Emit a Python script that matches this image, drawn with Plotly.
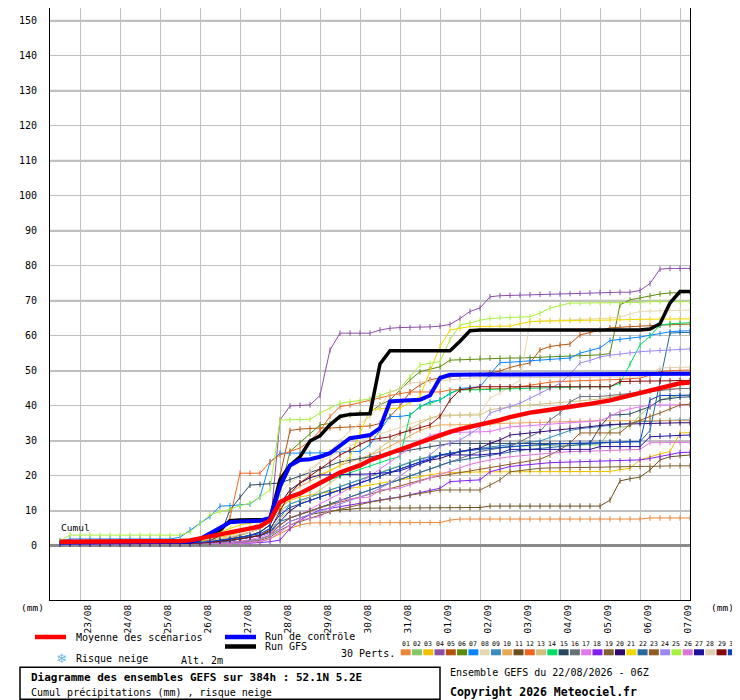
"""
GEFS ensemble plume: cumulative precipitation, 22/08/2026 06Z run, 52.1N 5.2E.
"""

import pandas as pd
import plotly.graph_objects as go

# 6-hourly steps of the run, first value at +6h, last at +384h
run_start = pd.Timestamp("2026-08-22 06:00")
steps = pd.date_range(run_start + pd.Timedelta(hours=6), periods=64, freq="6h")

day_labels = ["23/08", "24/08", "25/08", "26/08", "27/08", "28/08", "29/08", "30/08",
              "31/08", "01/09", "02/09", "03/09", "04/09", "05/09", "06/09", "07/09"]
y_ticks = list(range(0, 160, 10))

# ensemble mean, control run and deterministic GFS (mm, cumulated)
mean_run = [
    1.2, 1.2, 1.2, 1.2, 1.2, 1.2, 1.2, 1.2,
    1.2, 1.2, 1.2, 1.3, 1.4, 1.6, 2.2, 2.8,
    3.4, 4.0, 4.6, 5.1, 5.6, 7.4, 12.5, 14.0,
    15.0, 16.5, 18.0, 19.5, 21.0, 22.0, 23.0, 24.5,
    25.5, 26.5, 27.5, 28.7, 29.8, 30.8, 31.7, 32.6,
    33.4, 34.0, 34.6, 35.3, 36.0, 36.8, 37.6, 38.1,
    38.5, 39.0, 39.4, 39.8, 40.2, 40.6, 41.0, 41.6,
    42.3, 43.0, 43.8, 44.6, 45.4, 46.0, 46.5, 46.7]
control_run = [
    1.0, 1.0, 1.0, 1.0, 1.0, 1.0, 1.0, 1.0,
    1.0, 1.0, 1.0, 1.0, 1.0, 1.2, 2.0, 3.5,
    5.0, 6.8, 7.0, 7.0, 7.2, 8.0, 17.0, 23.0,
    24.6, 24.8, 25.5, 26.5, 28.8, 30.8, 31.2, 31.7,
    33.7, 41.3, 41.5, 41.6, 41.8, 43.0, 48.0, 48.9,
    49.0, 49.0, 49.0, 49.0, 49.0, 49.0, 49.0, 49.0,
    49.0, 49.0, 49.0, 49.0, 49.0, 49.0, 49.0, 49.0,
    49.0, 49.0, 49.0, 49.0, 49.1, 49.1, 49.2, 49.2]
gfs_run = [
    1.0, 1.0, 1.0, 1.0, 1.0, 1.0, 1.0, 1.0,
    1.0, 1.0, 1.0, 1.0, 1.0, 1.2, 2.0, 3.5,
    4.6, 7.2, 7.4, 7.4, 7.4, 7.6, 19.0, 23.0,
    25.5, 30.0, 31.5, 34.6, 37.0, 37.6, 37.7, 37.8,
    52.0, 55.8, 55.8, 55.8, 55.8, 55.8, 55.8, 55.8,
    58.5, 61.5, 61.7, 61.7, 61.7, 61.7, 61.7, 61.7,
    61.7, 61.7, 61.7, 61.7, 61.7, 61.7, 61.7, 61.7,
    61.7, 61.7, 61.7, 62.0, 63.5, 69.4, 72.7, 72.7]

# the 30 perturbed members
m01 = [
    0.8, 0.8, 0.8, 0.8, 0.8, 0.8, 0.8, 0.8,
    0.8, 0.8, 0.8, 0.8, 0.8, 0.8, 0.8, 0.8,
    0.8, 0.9, 1.0, 1.0, 1.2, 2.0, 3.5, 5.0,
    6.0, 6.6, 6.6, 6.6, 6.7, 6.7, 6.7, 6.7,
    6.7, 6.7, 6.7, 6.7, 6.7, 6.7, 6.7, 7.4,
    7.7, 7.7, 7.7, 7.7, 7.7, 7.7, 7.7, 7.7,
    7.7, 7.7, 7.7, 7.7, 7.7, 7.7, 7.7, 7.7,
    7.7, 7.7, 7.7, 8.0, 8.0, 8.0, 8.0, 8.0]
m02 = [
    0.8, 0.8, 0.8, 0.8, 0.8, 0.8, 0.8, 0.8,
    0.8, 0.8, 0.8, 0.8, 0.9, 1.0, 1.2, 1.5,
    2.0, 2.5, 3.0, 4.0, 5.0, 7.0, 10.0, 12.0,
    13.0, 14.0, 15.0, 16.0, 17.0, 18.0, 19.0, 20.0,
    21.0, 22.0, 23.0, 24.0, 25.0, 25.5, 26.0, 26.5,
    27.0, 27.5, 27.8, 28.0, 28.2, 28.4, 28.5, 28.6,
    28.7, 28.8, 28.8, 28.9, 28.9, 28.9, 28.9, 33.1,
    34.0, 34.1, 37.4, 39.8, 41.7, 42.5, 43.0, 43.1]
m03 = [
    0.7, 0.7, 0.7, 0.7, 0.7, 0.7, 0.7, 0.7,
    0.7, 0.7, 0.7, 0.7, 0.8, 1.0, 1.3, 1.8,
    2.5, 3.0, 4.0, 5.0, 6.0, 8.0, 11.0, 13.0,
    14.0, 14.5, 15.0, 15.5, 16.0, 16.5, 17.0, 17.5,
    18.0, 18.5, 19.0, 19.5, 20.0, 20.5, 20.8, 21.0,
    21.1, 21.2, 21.2, 21.2, 21.2, 21.2, 21.2, 21.2,
    21.2, 21.2, 21.2, 21.2, 21.2, 21.2, 21.2, 21.3,
    21.8, 22.2, 24.6, 25.5, 26.3, 27.0, 32.3, 32.4]
m04 = [
    1.0, 1.0, 1.0, 1.0, 1.0, 1.0, 1.0, 1.0,
    1.0, 1.0, 1.0, 1.0, 1.0, 1.0, 1.2, 1.5,
    1.8, 2.0, 2.2, 2.5, 3.0, 5.0, 36.0, 40.0,
    40.2, 40.3, 43.0, 56.0, 60.8, 60.8, 60.8, 60.8,
    61.7, 62.2, 62.4, 62.4, 62.5, 62.6, 62.8, 63.3,
    65.0, 67.0, 68.0, 71.2, 71.5, 71.6, 71.7, 71.8,
    71.9, 72.0, 72.0, 72.1, 72.2, 72.3, 72.4, 72.4,
    72.5, 72.5, 73.0, 75.0, 79.1, 79.3, 79.3, 79.3]
m05 = [
    0.9, 0.9, 0.9, 0.9, 0.9, 0.9, 0.9, 0.9,
    0.9, 0.9, 0.9, 0.9, 0.9, 0.9, 1.0, 1.2,
    1.5, 2.0, 2.5, 3.0, 4.0, 6.0, 20.0, 33.0,
    33.4, 33.6, 33.7, 33.7, 33.8, 34.0, 34.2, 34.3,
    35.0, 37.0, 40.0, 44.0, 46.0, 47.5, 48.0, 48.3,
    48.5, 48.8, 49.0, 49.5, 50.0, 51.0, 51.7, 52.3,
    56.0, 57.0, 57.4, 57.7, 60.3, 61.0, 61.7, 62.3,
    62.5, 62.7, 62.9, 63.0, 63.1, 63.2, 63.3, 63.4]
m06 = [
    1.0, 1.0, 1.0, 1.0, 1.0, 1.0, 1.0, 1.0,
    1.0, 1.0, 1.0, 1.0, 1.0, 1.0, 1.2, 1.5,
    2.0, 2.5, 3.0, 4.0, 5.0, 7.0, 15.0, 27.0,
    29.5, 32.0, 34.6, 35.0, 36.8, 37.5, 38.0, 38.2,
    40.3, 41.7, 44.5, 47.4, 49.8, 50.5, 51.2, 53.1,
    53.2, 53.4, 53.6, 53.7, 53.7, 53.7, 53.7, 53.8,
    53.9, 54.0, 54.1, 54.2, 54.3, 54.4, 54.6, 55.0,
    68.9, 70.3, 70.9, 71.5, 72.0, 72.3, 72.4, 72.4]
m07 = [
    1.5, 2.0, 2.0, 2.0, 2.0, 2.0, 2.0, 2.0,
    2.0, 2.0, 2.0, 2.0, 2.5, 4.6, 6.5, 8.4,
    11.4, 11.5, 11.7, 12.0, 14.0, 24.0, 26.5, 26.5,
    26.5, 26.5, 26.6, 26.8, 27.0, 27.0, 27.0, 28.9,
    33.1, 37.0, 37.0, 37.4, 39.8, 41.2, 41.7, 43.5,
    45.0, 45.3, 45.5, 49.0, 52.4, 52.5, 52.7, 53.0,
    53.2, 53.4, 53.6, 53.7, 55.1, 55.8, 56.6, 58.7,
    59.0, 59.4, 59.7, 60.2, 60.7, 61.2, 61.4, 61.5]
m08 = [
    0.8, 0.8, 0.8, 0.8, 0.8, 0.8, 0.8, 0.8,
    0.8, 0.8, 0.8, 0.8, 0.8, 0.8, 1.0, 1.3,
    1.8, 2.5, 3.5, 5.0, 7.0, 10.0, 15.0, 18.0,
    20.0, 22.0, 24.0, 25.5, 27.0, 28.5, 30.0, 31.0,
    32.0, 33.0, 34.0, 35.0, 35.8, 36.4, 37.0, 37.2,
    37.4, 37.6, 37.8, 42.3, 43.7, 45.5, 47.4, 64.1,
    64.3, 64.4, 64.5, 64.6, 64.7, 64.8, 64.9, 65.1,
    65.5, 66.2, 67.0, 67.1, 67.2, 67.3, 67.4, 67.4]
m09 = [
    0.7, 0.7, 0.7, 0.7, 0.7, 0.7, 0.7, 0.7,
    0.7, 0.7, 0.7, 0.7, 0.7, 0.7, 0.8, 1.0,
    1.3, 1.6, 2.0, 2.5, 3.0, 4.0, 8.0, 12.0,
    13.0, 14.0, 15.0, 16.0, 17.0, 18.0, 19.0, 20.0,
    21.0, 22.0, 23.0, 24.0, 24.8, 25.4, 26.0, 26.5,
    27.0, 27.5, 28.0, 28.3, 28.6, 28.9, 29.2, 29.5,
    30.0, 31.0, 32.0, 33.0, 33.5, 33.8, 34.0, 34.4,
    34.8, 35.1, 35.5, 35.7, 35.8, 35.9, 36.0, 36.0]
m10 = [
    0.8, 0.8, 0.8, 0.8, 0.8, 0.8, 0.8, 0.8,
    0.8, 0.8, 0.8, 0.8, 0.8, 0.8, 1.0, 1.5,
    2.0, 2.5, 3.0, 4.0, 5.0, 7.0, 12.0, 15.0,
    17.0, 18.5, 20.0, 21.5, 23.0, 24.0, 25.0, 26.0,
    27.0, 28.5, 30.0, 31.5, 33.0, 34.0, 34.6, 34.6,
    34.6, 34.6, 34.6, 34.8, 35.0, 35.1, 35.2, 35.3,
    35.4, 35.5, 35.6, 35.7, 35.7, 35.8, 35.8, 35.8,
    35.8, 35.8, 35.8, 35.8, 35.8, 35.8, 35.8, 35.8]
m11 = [
    0.7, 0.7, 0.7, 0.7, 0.7, 0.7, 0.7, 0.7,
    0.7, 0.7, 0.7, 0.7, 0.7, 0.7, 0.7, 0.7,
    0.8, 1.0, 1.2, 1.5, 2.0, 3.0, 5.0, 7.0,
    8.0, 9.0, 9.5, 10.0, 10.3, 10.5, 10.8, 10.8,
    10.8, 10.8, 10.8, 11.0, 11.0, 11.0, 11.0, 11.0,
    11.0, 11.0, 11.0, 11.4, 11.4, 11.4, 11.4, 11.4,
    11.4, 11.4, 11.4, 11.4, 11.4, 11.4, 11.4, 13.1,
    18.6, 19.2, 19.7, 21.7, 24.6, 25.5, 25.8, 26.0]
m12 = [
    0.8, 0.8, 0.8, 0.8, 0.8, 0.8, 0.8, 0.8,
    0.8, 0.8, 0.8, 0.8, 0.8, 0.8, 1.0, 1.5,
    3.0, 8.0, 20.8, 20.8, 20.8, 24.0, 26.0, 27.0,
    28.0, 30.0, 33.0, 37.0, 39.8, 40.3, 41.0, 41.7,
    42.5, 43.0, 43.5, 44.0, 44.0, 44.0, 44.0, 44.6,
    44.6, 44.7, 44.8, 44.9, 45.0, 45.0, 45.5, 46.0,
    46.5, 46.8, 47.0, 47.1, 47.1, 47.2, 47.2, 47.4,
    47.6, 47.8, 48.0, 48.8, 49.8, 50.1, 50.3, 50.3]
m13 = [
    0.8, 0.8, 0.8, 0.8, 0.8, 0.8, 0.8, 0.8,
    0.8, 0.8, 0.8, 0.8, 0.8, 0.8, 0.9, 1.0,
    1.3, 1.6, 2.0, 2.6, 3.2, 4.5, 8.0, 10.0,
    12.0, 14.0, 16.0, 18.0, 20.0, 22.0, 24.0, 26.0,
    28.0, 30.0, 32.0, 33.5, 35.0, 36.5, 37.4, 37.4,
    37.4, 37.4, 37.4, 38.9, 39.4, 39.8, 40.0, 40.3,
    40.6, 40.8, 41.0, 41.2, 41.4, 41.6, 42.0, 42.5,
    43.0, 43.5, 44.0, 44.4, 44.7, 44.9, 45.0, 45.0]
m14 = [
    0.8, 0.8, 0.8, 0.8, 0.8, 0.8, 0.8, 0.8,
    0.8, 0.8, 0.8, 0.8, 0.8, 0.8, 1.0, 1.2,
    1.5, 2.0, 2.5, 3.0, 4.0, 6.0, 12.0, 14.0,
    15.0, 16.0, 18.0, 19.0, 20.0, 21.0, 22.0, 23.0,
    24.0, 24.8, 25.5, 37.4, 39.8, 40.8, 41.7, 43.7,
    44.6, 44.6, 44.6, 44.7, 44.8, 44.9, 45.0, 45.1,
    45.2, 45.3, 45.4, 45.4, 45.5, 45.5, 45.5, 45.5,
    46.5, 52.0, 57.4, 60.0, 63.1, 63.5, 63.7, 63.8]
m15 = [
    0.8, 0.8, 0.8, 0.8, 0.8, 0.8, 0.8, 0.8,
    0.8, 0.8, 0.8, 0.8, 0.8, 0.8, 1.0, 1.5,
    3.0, 10.3, 14.0, 17.4, 17.6, 17.8, 18.0, 19.0,
    20.0, 21.0, 22.0, 23.0, 24.0, 24.5, 25.0, 25.5,
    26.0, 26.5, 27.0, 27.5, 28.0, 28.5, 29.0, 29.3,
    29.3, 29.3, 29.3, 29.3, 29.3, 29.3, 29.3, 29.3,
    29.3, 29.3, 29.3, 29.3, 29.3, 29.3, 34.0, 37.4,
    37.5, 37.7, 38.8, 39.8, 41.7, 42.2, 42.5, 42.6]
m16 = [
    0.7, 0.7, 0.7, 0.7, 0.7, 0.7, 0.7, 0.7,
    0.7, 0.7, 0.7, 0.7, 0.7, 0.7, 0.8, 1.0,
    1.2, 1.5, 2.0, 2.5, 3.0, 4.0, 6.0, 8.0,
    9.0, 10.0, 11.0, 12.0, 13.0, 14.0, 15.0, 16.0,
    17.0, 18.0, 19.0, 20.0, 21.0, 22.0, 23.0, 24.0,
    25.0, 26.0, 27.0, 27.5, 28.0, 28.4, 29.8, 31.2,
    32.7, 36.0, 38.0, 41.2, 42.7, 42.7, 42.7, 43.0,
    43.3, 43.6, 44.0, 44.3, 44.6, 44.8, 45.0, 45.0]
m17 = [
    0.7, 0.7, 0.7, 0.7, 0.7, 0.7, 0.7, 0.7,
    0.7, 0.7, 0.7, 0.7, 0.7, 0.7, 0.7, 0.7,
    0.8, 1.0, 1.3, 1.8, 2.5, 3.5, 6.0, 8.0,
    9.0, 10.5, 12.0, 13.5, 15.0, 16.5, 18.0, 20.0,
    22.0, 24.0, 26.0, 28.0, 30.0, 31.5, 32.3, 32.4,
    32.5, 32.6, 32.6, 32.7, 33.4, 34.0, 34.2, 34.4,
    34.6, 34.8, 35.0, 35.2, 35.4, 35.6, 35.8, 37.0,
    38.5, 39.2, 39.8, 40.3, 40.3, 40.3, 40.3, 40.3]
m18 = [
    0.6, 0.6, 0.6, 0.6, 0.6, 0.6, 0.6, 0.6,
    0.6, 0.6, 0.6, 0.6, 0.6, 0.6, 0.6, 0.6,
    0.6, 0.6, 0.7, 0.8, 1.0, 1.2, 1.7, 5.0,
    7.4, 9.0, 10.3, 10.8, 11.3, 11.8, 12.3, 12.8,
    13.2, 13.6, 14.0, 14.6, 15.2, 15.8, 16.5, 18.4,
    18.6, 18.8, 18.9, 21.2, 22.0, 22.7, 23.0, 23.3,
    23.7, 23.8, 23.9, 24.0, 24.0, 24.1, 24.1, 24.2,
    24.3, 24.5, 24.6, 25.0, 25.5, 26.0, 26.7, 26.8]
m19 = [
    0.7, 0.7, 0.7, 0.7, 0.7, 0.7, 0.7, 0.7,
    0.7, 0.7, 0.7, 0.7, 0.7, 0.7, 0.7, 0.7,
    0.8, 0.9, 1.0, 1.2, 1.6, 2.5, 4.5, 6.0,
    7.0, 8.0, 9.0, 9.8, 10.5, 11.2, 12.0, 12.5,
    13.0, 13.5, 14.0, 14.5, 15.0, 15.5, 16.0, 16.0,
    16.0, 16.0, 16.0, 17.4, 18.9, 21.2, 21.6, 21.9,
    22.2, 22.3, 22.3, 22.4, 22.4, 22.5, 22.5, 22.6,
    22.6, 22.7, 22.7, 22.8, 22.8, 22.9, 22.9, 22.9]
m20 = [
    0.7, 0.7, 0.7, 0.7, 0.7, 0.7, 0.7, 0.7,
    0.7, 0.7, 0.7, 0.7, 0.7, 0.7, 0.8, 1.0,
    1.2, 1.5, 2.0, 2.5, 3.0, 4.0, 7.0, 10.0,
    12.0, 13.0, 14.0, 15.0, 16.0, 17.0, 18.0, 19.0,
    20.0, 21.0, 22.0, 23.0, 24.0, 24.5, 25.0, 26.0,
    27.0, 27.5, 28.0, 29.3, 30.3, 31.7, 32.0, 32.3,
    32.7, 33.1, 33.4, 33.7, 34.0, 34.3, 34.6, 34.7,
    34.8, 34.9, 35.0, 35.0, 35.1, 35.1, 35.2, 35.2]
m21 = [
    0.8, 0.8, 0.8, 0.8, 0.8, 0.8, 0.8, 0.8,
    0.8, 0.8, 0.8, 0.8, 0.8, 1.0, 2.0, 3.0,
    4.0, 5.0, 6.0, 6.5, 7.0, 8.0, 12.0, 16.0,
    18.0, 19.5, 20.5, 21.5, 23.0, 25.5, 32.3, 38.9,
    39.2, 39.3, 39.4, 41.0, 42.7, 50.0, 57.0, 61.7,
    62.2, 62.7, 62.7, 62.7, 62.7, 62.8, 63.5, 64.1,
    64.2, 64.3, 64.3, 64.4, 64.4, 64.5, 64.5, 64.6,
    64.7, 64.7, 64.8, 64.8, 64.8, 64.9, 64.9, 64.9]
m22 = [
    0.7, 0.7, 0.7, 0.7, 0.7, 0.7, 0.7, 0.7,
    0.7, 0.7, 0.7, 0.7, 0.7, 0.7, 0.8, 1.0,
    1.2, 1.5, 2.0, 2.5, 3.0, 4.0, 7.0, 8.0,
    9.0, 10.0, 11.0, 12.0, 13.0, 14.0, 15.0, 16.0,
    17.0, 18.0, 19.0, 20.0, 21.0, 22.0, 23.0, 24.0,
    24.5, 25.0, 25.5, 26.0, 26.5, 27.0, 27.3, 27.6,
    27.9, 28.2, 28.5, 28.8, 29.0, 29.2, 29.4, 29.6,
    29.7, 29.8, 29.8, 33.0, 47.0, 60.8, 61.0, 61.0]
m23 = [
    0.7, 0.7, 0.7, 0.7, 0.7, 0.7, 0.7, 0.7,
    0.7, 0.7, 0.7, 0.7, 0.7, 0.7, 0.7, 0.7,
    0.8, 1.0, 1.2, 1.5, 2.0, 3.0, 6.0, 8.0,
    9.0, 10.0, 11.0, 11.8, 12.5, 13.2, 14.0, 14.8,
    15.6, 16.4, 17.2, 18.0, 18.8, 19.5, 20.0, 20.5,
    21.0, 21.5, 22.0, 22.5, 23.0, 23.5, 24.0, 24.4,
    24.8, 26.0, 27.5, 29.4, 32.3, 32.3, 32.3, 32.3,
    32.3, 34.8, 36.0, 37.0, 38.0, 39.2, 40.3, 40.5]
m24 = [
    0.7, 0.7, 0.7, 0.7, 0.7, 0.7, 0.7, 0.7,
    0.7, 0.7, 0.7, 0.7, 0.7, 0.7, 0.7, 0.7,
    0.8, 1.0, 1.2, 1.5, 2.0, 3.0, 5.0, 7.0,
    8.0, 9.0, 10.0, 11.0, 12.0, 13.0, 14.0, 15.0,
    16.5, 18.0, 20.0, 22.0, 24.0, 26.0, 28.4, 29.3,
    30.3, 32.0, 34.0, 38.0, 39.0, 40.0, 40.8, 42.2,
    43.7, 45.0, 46.5, 49.0, 52.3, 53.0, 54.0, 54.5,
    54.9, 55.2, 55.5, 55.7, 55.9, 56.1, 56.2, 56.3]
m25 = [
    1.5, 3.1, 3.1, 3.1, 3.1, 3.1, 3.1, 3.1,
    3.1, 3.1, 3.1, 3.1, 3.1, 4.0, 6.5, 8.9,
    9.8, 10.5, 11.5, 12.2, 14.0, 16.0, 36.0, 36.0,
    36.1, 36.2, 38.0, 39.5, 40.8, 41.2, 41.6, 42.0,
    43.0, 44.0, 45.0, 48.4, 51.7, 52.2, 52.7, 58.9,
    63.1, 63.7, 64.5, 65.0, 65.2, 65.3, 65.4, 65.5,
    66.5, 68.0, 68.7, 69.4, 69.4, 69.4, 69.5, 69.5,
    69.5, 69.5, 69.6, 69.8, 69.8, 69.8, 69.8, 69.8]
m26 = [
    0.6, 0.6, 0.6, 0.6, 0.6, 0.6, 0.6, 0.6,
    0.6, 0.6, 0.6, 0.6, 0.6, 0.6, 0.6, 0.6,
    0.6, 0.7, 0.8, 1.0, 1.3, 2.0, 4.0, 6.0,
    7.4, 8.0, 8.4, 10.3, 13.1, 13.5, 13.8, 14.0,
    16.0, 16.3, 16.6, 17.5, 18.5, 19.5, 20.5, 21.5,
    22.5, 23.3, 24.0, 24.6, 25.1, 25.5, 25.8, 26.0,
    26.2, 26.5, 26.7, 27.0, 27.0, 27.0, 27.2, 27.3,
    27.4, 27.5, 27.6, 29.5, 29.5, 29.6, 29.6, 29.6]
m27 = [
    0.7, 0.7, 0.7, 0.7, 0.7, 0.7, 0.7, 0.7,
    0.7, 0.7, 0.7, 0.7, 0.7, 0.7, 0.9, 1.2,
    1.5, 2.0, 2.5, 3.0, 4.0, 6.0, 12.0, 16.0,
    18.0, 19.5, 20.3, 20.3, 20.3, 20.4, 20.5, 20.6,
    20.8, 21.0, 21.5, 22.5, 23.5, 24.5, 26.0, 26.0,
    26.0, 26.0, 26.0, 26.3, 26.5, 27.6, 27.6, 27.6,
    27.6, 27.6, 27.6, 27.6, 27.6, 27.6, 28.4, 28.4,
    28.4, 28.4, 28.4, 31.2, 31.4, 31.5, 31.6, 31.7]
m28 = [
    0.8, 0.8, 0.8, 0.8, 0.8, 0.8, 0.8, 0.8,
    0.8, 0.8, 0.8, 0.8, 0.8, 0.8, 1.0, 1.4,
    2.0, 2.6, 3.2, 4.0, 5.0, 7.0, 12.0, 15.0,
    18.0, 21.0, 24.0, 27.0, 30.0, 33.0, 35.0, 37.0,
    40.0, 43.8, 45.0, 46.5, 46.8, 47.0, 47.1, 47.4,
    47.7, 48.0, 48.0, 48.0, 48.0, 48.1, 48.1, 48.1,
    48.1, 48.2, 48.2, 48.2, 48.2, 48.2, 48.3, 48.3,
    48.3, 48.3, 48.3, 49.4, 50.8, 51.0, 51.1, 51.1]
m29 = [
    0.7, 0.7, 0.7, 0.7, 0.7, 0.7, 0.7, 0.7,
    0.7, 0.7, 0.7, 0.7, 0.7, 0.7, 0.8, 1.0,
    1.3, 1.6, 2.0, 2.5, 3.0, 4.5, 10.0, 15.0,
    18.0, 20.0, 22.0, 24.0, 26.0, 27.4, 29.0, 30.3,
    30.8, 31.2, 32.2, 33.1, 33.8, 34.6, 37.0, 41.7,
    44.6, 45.0, 45.5, 45.5, 45.5, 45.5, 45.5, 45.5,
    45.5, 45.5, 45.5, 45.5, 45.5, 45.5, 45.5, 45.5,
    47.0, 47.0, 47.1, 47.1, 47.2, 47.2, 47.3, 47.3]
m30 = [
    0.8, 0.8, 0.8, 0.8, 0.8, 0.8, 0.8, 0.8,
    0.8, 0.8, 0.8, 0.8, 0.8, 0.8, 1.0, 1.3,
    1.6, 2.0, 2.5, 3.0, 3.5, 5.0, 9.0, 11.0,
    12.0, 13.0, 14.0, 15.0, 16.0, 17.0, 18.0, 19.0,
    20.0, 21.0, 22.0, 23.0, 24.0, 25.0, 26.0, 26.5,
    27.0, 27.3, 27.6, 27.9, 28.2, 28.4, 28.6, 28.8,
    29.0, 29.1, 29.2, 29.3, 29.4, 29.5, 29.6, 29.7,
    29.8, 29.8, 29.8, 41.7, 43.0, 43.0, 43.0, 43.1]

members = [m01, m02, m03, m04, m05, m06, m07, m08, m09, m10,
           m11, m12, m13, m14, m15, m16, m17, m18, m19, m20,
           m21, m22, m23, m24, m25, m26, m27, m28, m29, m30]
member_names = [f"{k:02d}" for k in range(1, 31)]
member_colors = [
    "#e8873a", "#88c46a", "#f0c000", "#8b4fa8", "#b4540c", "#5a8a0a",
    "#0a84ff", "#e8d8b0", "#3c8cc0", "#e8a858", "#6a5020", "#f06420",
    "#d0c080", "#00dc64", "#284860", "#687078", "#e078f0", "#8020f0",
    "#806030", "#300870", "#f0d800", "#2868a0", "#905c24", "#9c88f0",
    "#a8f040", "#d878d8", "#2010a0", "#e0d0b0", "#880808", "#0a40c0",
]

for series in members + [mean_run, control_run, gfs_run]:
    assert len(series) == len(steps)

MONO = "DejaVu Sans Mono"
GRID = "#c0c0c0"

# the page body adds an 8px margin, so the figure is made 8px smaller and the
# plot area lands on x 50..690, y 8..600 of the window
PAGE = 8
fig_w, fig_h = 740 - PAGE, 700 - PAGE

fig = go.Figure()

for name, vals, col in zip(member_names, members, member_colors):
    fig.add_trace(go.Scatter(
        x=steps, y=vals, name=name, mode="lines+markers",
        line=dict(color=col, width=1),
        marker=dict(symbol="line-ns", size=4, line=dict(width=1, color=col)),
    ))

fig.add_trace(go.Scatter(x=steps, y=gfs_run, mode="lines", name="Run GFS",
                         line=dict(color="black", width=3.5)))
fig.add_trace(go.Scatter(x=steps, y=control_run, mode="lines", name="Run de contrôle",
                         line=dict(color="#0000ff", width=4)))
fig.add_trace(go.Scatter(x=steps, y=mean_run, mode="lines", name="Moyenne des scénarios",
                         line=dict(color="#ff0000", width=4.5)))

# day labels sit a little to the right of the 00Z grid line
day_ticks = [pd.Timestamp(f"2026-{d[3:]}-{d[:2]}") + pd.Timedelta(hours=4.5) for d in day_labels]
y_range = [-15.43, 153.7]

fig.update_layout(
    width=fig_w, height=fig_h,
    margin=dict(l=50 - PAGE, r=50, t=0, b=100),
    paper_bgcolor="white", plot_bgcolor="white",
    showlegend=False,
    font=dict(family=MONO, size=10, color="black"),
    xaxis=dict(
        range=[run_start, run_start + pd.Timedelta(hours=384)],
        tickvals=day_ticks, ticktext=day_labels, tickangle=-90,
        showgrid=False, ticks="", showline=True, linecolor="black", linewidth=1,
        zeroline=False, tickfont=dict(size=9.5),
        minor=dict(tick0="2026-08-23", dtick=86400000, showgrid=True,
                   gridcolor=GRID, gridwidth=1, ticks=""),
    ),
    yaxis=dict(
        range=y_range, tickvals=y_ticks, showgrid=True, gridcolor=GRID, gridwidth=1,
        zeroline=True, zerolinecolor="#8a8a8a", zerolinewidth=3,
        showline=True, mirror=True, linecolor="black", linewidth=1,
        ticks="", ticklabelstandoff=10, tickfont=dict(size=10),
    ),
    yaxis2=dict(
        range=y_range, tickvals=y_ticks, overlaying="y", side="right",
        showgrid=False, zeroline=False, showline=False,
        ticks="", ticklabelstandoff=16, tickfont=dict(size=10),
    ),
)

# heavier grid line every 20 mm (10, 30, 50 ...)
for v in y_ticks[1::2]:
    fig.add_shape(type="line", xref="paper", x0=0, x1=1, y0=v, y1=v,
                  line=dict(color=GRID, width=2.2), layer="below")


def pp(x, y):
    """window pixel position -> paper coordinates"""
    return (x - 50) / 640, (600 - y) / (600 - PAGE)


def text(x, y, s, size=10, bold=False, color="black", family=MONO, anchor="left", box_h=None):
    px_, py_ = pp(x, y)
    fig.add_annotation(x=px_, y=py_, xref="paper", yref="paper", text=f"<b>{s}</b>" if bold else s,
                       showarrow=False, xanchor=anchor, yanchor="middle", height=box_h,
                       borderpad=0 if box_h else 1,
                       font=dict(family=family, size=size, color=color))


def seg(x0, x1, y, color, width):
    a = pp(x0, y)
    b = pp(x1, y)
    fig.add_shape(type="line", xref="paper", yref="paper", x0=a[0], x1=b[0], y0=a[1], y1=b[1],
                  line=dict(color=color, width=width))


text(59, 527, "Cumul", size=9.5)
text(19, 607, "(mm)", size=9.5)
text(709, 607, "(mm)", size=9.5)

# legend
seg(35, 66, 637, "#ff0000", 4.5)
text(74, 637, "Moyenne des scénarios")
seg(225, 256, 637, "#0000ff", 4.5)
text(264, 636.5, "Run de contrôle", box_h=9)
seg(225, 256, 646.5, "black", 4.5)
text(264, 646.5, "Run GFS", box_h=9)
text(339, 653, "30 Perts.")
text(61, 658, "❄", size=13, color="#6fb7e8", family="DejaVu Sans", anchor="center")
text(74, 659, "Risque neige")
text(179, 660, "Alt. 2m")

for k, (name, col) in enumerate(zip(member_names, member_colors)):
    x0 = 400.7 + k * 11.28
    a = pp(x0, 649.3)
    b = pp(x0 + 10, 655.3)
    fig.add_shape(type="rect", xref="paper", yref="paper", x0=a[0], x1=b[0], y0=a[1], y1=b[1],
                  line=dict(width=0), fillcolor=col)
    text(x0 + 5, 644, name, size=6.5, anchor="center")

# title box
a = pp(20, 667.3)
b = pp(440, 699.3)
fig.add_shape(type="rect", xref="paper", yref="paper", x0=a[0], x1=b[0], y0=a[1], y1=b[1],
              line=dict(color="black", width=1.5), fillcolor="rgba(0,0,0,0)")
text(29, 677, "Diagramme des ensembles GEFS sur 384h : 52.1N 5.2E", size=11, bold=True)
text(29, 692, "Cumul précipitations (mm) , risque neige")
text(448, 672, "Ensemble GEFS du 22/08/2026 - 06Z")
text(448, 692, "Copyright 2026 Meteociel.fr", size=11.5, bold=True)

fig.write_html("out.html")
